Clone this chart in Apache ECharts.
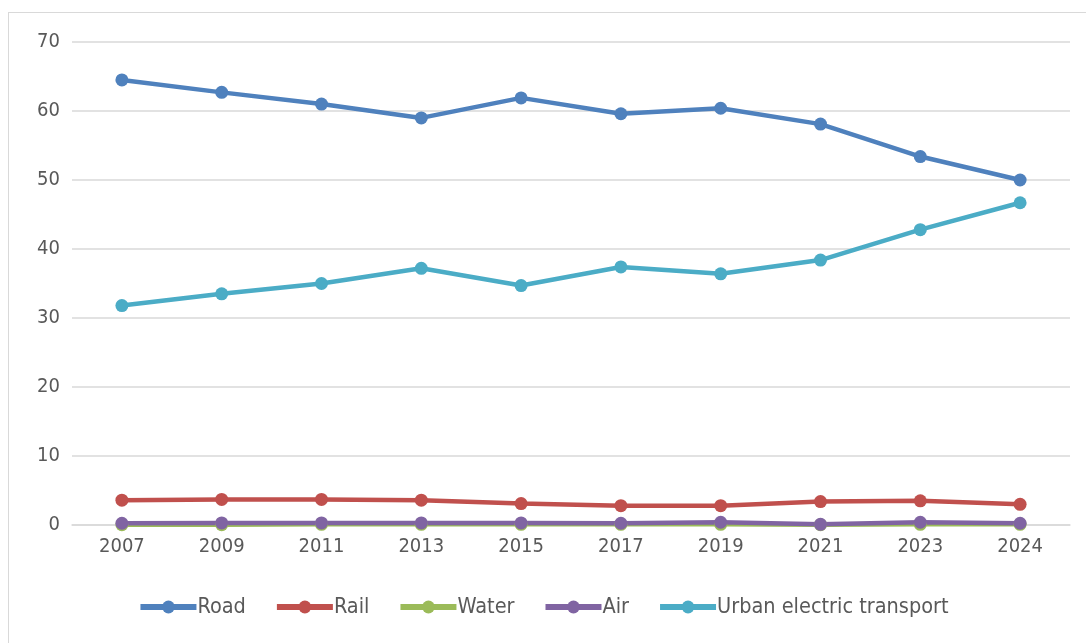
<!DOCTYPE html>
<html>
<head>
<meta charset="utf-8">
<script src="https://cdn.jsdelivr.net/npm/echarts@6/dist/echarts.min.js"></script>
<style>
  html, body { margin: 0; padding: 0; background: #fff; }
  .frame {
    position: absolute; left: 8px; top: 12px; width: 1090px; height: 640px;
    border: 1px solid #d9d9d9; box-sizing: border-box;
  }
  #chart { position: absolute; left: 0; top: 0; width: 1086px; height: 643px; }
</style>
</head>
<body>
<div class="frame"></div>
<div id="chart"></div>
<script>
const years = ['2007', '2009', '2011', '2013', '2015', '2017', '2019', '2021', '2023', '2024']
const road = [64.5, 62.7, 61.0, 59.0, 61.9, 59.6, 60.4, 58.1, 53.4, 50.0]
const rail = [3.6, 3.7, 3.7, 3.6, 3.1, 2.8, 2.8, 3.4, 3.5, 3.0]
const water = [0.05, 0.05, 0.1, 0.1, 0.1, 0.1, 0.1, 0.05, 0.1, 0.1]
const air = [0.25, 0.3, 0.3, 0.3, 0.3, 0.25, 0.4, 0.1, 0.4, 0.25]
const urban = [31.8, 33.5, 35.0, 37.2, 34.7, 37.4, 36.4, 38.4, 42.8, 46.7]

const font = '"Liberation Sans Narrow", "DejaVu Sans Condensed", sans-serif'

const mk = (name, data, color) => ({
  name,
  type: 'line',
  data,
  symbol: 'circle',
  symbolSize: 13,
  lineStyle: { color, width: 4.5 },
  itemStyle: { color },
  emphasis: { disabled: true }
})

const chart = echarts.init(document.getElementById('chart'))
chart.setOption({
  animation: false,
  textStyle: { fontFamily: font },
  grid: { left: 72, right: 16, top: 42, bottom: 118, containLabel: false },
  legend: {
    bottom: 20,
    left: 'center',
    itemWidth: 56,
    itemHeight: 16,
    itemGap: 28,
    lineStyle: { width: 6 },
    textStyle: { color: '#595959', fontSize: 21.5, fontFamily: font, padding: [0, 0, 0, -4] },
    data: ['Road', 'Rail', 'Water', 'Air', 'Urban electric transport']
  },
  xAxis: {
    type: 'category',
    data: years,
    boundaryGap: true,
    axisLine: { lineStyle: { color: '#d9d9d9', width: 1.5 } },
    axisTick: { show: false },
    axisLabel: { color: '#595959', fontSize: 20, margin: 12, fontFamily: font }
  },
  yAxis: {
    type: 'value',
    min: 0,
    max: 70,
    interval: 10,
    axisLine: { show: false },
    axisTick: { show: false },
    axisLabel: { color: '#595959', fontSize: 20, margin: 12, fontFamily: font },
    splitLine: { lineStyle: { color: '#d9d9d9', width: 1.5 } }
  },
  series: [
    mk('Road', road, '#4f81bd'),
    mk('Rail', rail, '#c0504d'),
    mk('Water', water, '#9bbb59'),
    mk('Air', air, '#8064a2'),
    mk('Urban electric transport', urban, '#4bacc6')
  ]
})
</script>
</body>
</html>
